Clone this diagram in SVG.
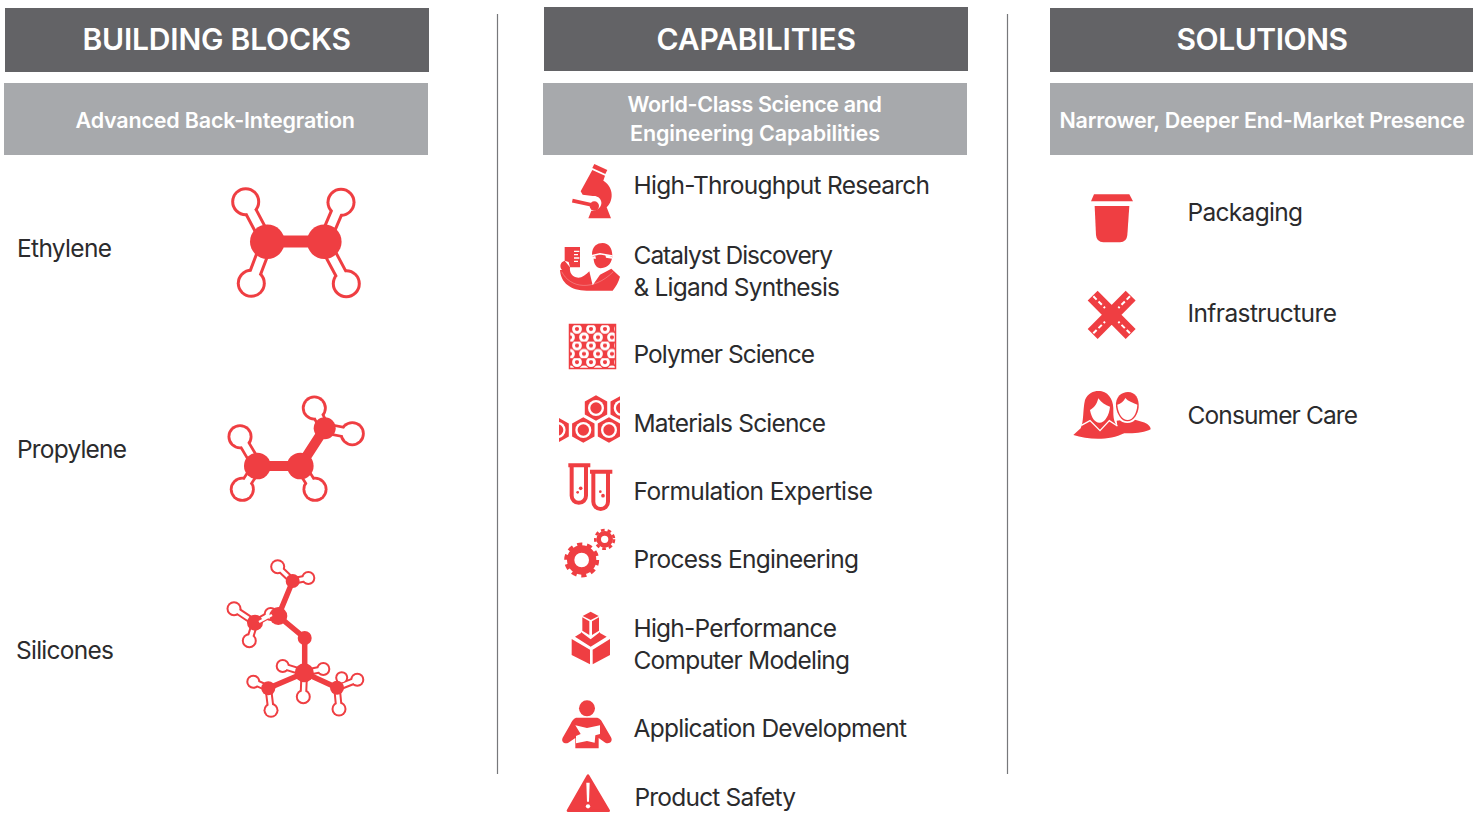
<svg xmlns="http://www.w3.org/2000/svg" width="1473" height="839" viewBox="0 0 1473 839">
<style>
text{font-family:"Inter","Liberation Sans",sans-serif}
.h{font-size:30px;font-weight:600;fill:#fff;text-anchor:start}
.s{font-size:21.5px;font-weight:600;fill:#fff}
.t{font-size:24.500px;font-weight:400;fill:#2b2b2d}
.hd{fill:#636366}.sb{fill:#a7a9ac}
.r{fill:#ef3e42}.w{fill:#fff}
.bl{stroke:#ef3e42;fill:none}
.wl{stroke:#fff;fill:none}
.div{stroke:#77787b;stroke-width:1.2}
</style>
<defs>
<pattern id="hex" x="570" y="325" width="14" height="16.600" patternUnits="userSpaceOnUse">
<rect width="14" height="16.600" fill="#ef3e42"/>
<circle cx="7" cy="4" r="3.500" fill="none" stroke="#fff" stroke-width="2.800"/>
<circle cx="0" cy="12.300" r="3.500" fill="none" stroke="#fff" stroke-width="2.800"/>
<circle cx="14" cy="12.300" r="3.500" fill="none" stroke="#fff" stroke-width="2.800"/>
</pattern>
<clipPath id="matclip"><rect x="559" y="390" width="61" height="60"/></clipPath>
</defs>
<g id="dividers">
<line class="div" x1="497.5" y1="14" x2="497.5" y2="774"/>
<line class="div" x1="1007.5" y1="14" x2="1007.5" y2="774"/>
</g>
<g id="col-building-blocks">
<rect class="hd" x="5" y="8" width="424" height="64"/>
<text class="h" x="82.500" y="50" textLength="268.500">BUILDING BLOCKS</text>
<rect class="sb" x="4" y="83" width="424" height="72"/>
<text class="s" x="75.500" y="128" textLength="279.500">Advanced Back-Integration</text>
</g>
<g id="col-capabilities">
<rect class="hd" x="544" y="7" width="424" height="64"/>
<text class="h" x="656.500" y="50" textLength="199.500">CAPABILITIES</text>
<rect class="sb" x="543" y="83" width="424" height="72"/>
<text class="s" x="627.500" y="112" textLength="254.500">World-Class Science and</text>
<text class="s" x="630" y="141" textLength="250">Engineering Capabilities</text>
</g>
<g id="col-solutions">
<rect class="hd" x="1050" y="8" width="423" height="64"/>
<text class="h" x="1176.500" y="50" textLength="171.500">SOLUTIONS</text>
<rect class="sb" x="1050" y="83" width="423" height="72"/>
<text class="s" x="1059.500" y="128" textLength="405.500">Narrower, Deeper End-Market Presence</text>
</g>
<g id="ethylene">
<text class="t" x="17" y="257" textLength="95">Ethylene</text>
<g class="bl" stroke-width="14"><path d="M267 242L245.700 201.700M267 242L251.300 283.300M324 242L341 202.300M324 242L346.300 283.700"/></g>
<circle class="r" cx="245.700" cy="201.700" r="14.500"/><circle class="r" cx="341" cy="202.300" r="14.500"/><circle class="r" cx="251.300" cy="283.300" r="14.500"/><circle class="r" cx="346.300" cy="283.700" r="14.500"/>
<g class="wl" stroke-width="8"><path d="M267 242L245.700 201.700M267 242L251.300 283.300M324 242L341 202.300M324 242L346.300 283.700"/></g>
<circle class="w" cx="245.700" cy="201.700" r="11.500"/><circle class="w" cx="341" cy="202.300" r="11.500"/><circle class="w" cx="251.300" cy="283.300" r="11.500"/><circle class="w" cx="346.300" cy="283.700" r="11.500"/>
<rect class="r" x="267" y="235.500" width="57" height="12"/>
<circle class="r" cx="267.300" cy="241.700" r="17.300"/><circle class="r" cx="324.300" cy="241.700" r="17.300"/>
</g>
<g id="propylene">
<text class="t" x="17" y="458" textLength="110">Propylene</text>
<g class="bl" stroke-width="12"><path d="M257.300 466L240 436.700M257.300 466L242.300 489.300M300.300 466L315 489.300M324.700 428.300L314.300 408M324.700 428.300L352.300 433.700"/></g>
<circle class="r" cx="240" cy="436.700" r="12.500"/><circle class="r" cx="242.300" cy="489.300" r="12.500"/><circle class="r" cx="315" cy="489.300" r="12.500"/><circle class="r" cx="314.300" cy="408" r="12.500"/><circle class="r" cx="352.300" cy="433.700" r="12.500"/>
<g class="wl" stroke-width="6.500"><path d="M257.300 466L240 436.700M257.300 466L242.300 489.300M300.300 466L315 489.300M324.700 428.300L314.300 408M324.700 428.300L352.300 433.700"/></g>
<circle class="w" cx="240" cy="436.700" r="9.700"/><circle class="w" cx="242.300" cy="489.300" r="9.700"/><circle class="w" cx="315" cy="489.300" r="9.700"/><circle class="w" cx="314.300" cy="408" r="9.700"/><circle class="w" cx="352.300" cy="433.700" r="9.700"/>
<path class="bl" stroke-width="10" d="M257.300 466H300.300L324.700 428.300"/>
<circle class="r" cx="257.300" cy="466" r="13.300"/><circle class="r" cx="300.300" cy="466" r="13.300"/><circle class="r" cx="324.700" cy="428.300" r="11"/>
</g>
<g id="silicones">
<text class="t" x="16" y="659" textLength="98">Silicones</text>
<g class="bl" stroke-width="7.500"><path d="M292.700 581L277.700 566.700M292.700 581L308.300 578M255 622.700L234 608.700M255 622.700L249.300 640.700M255 622.700L270.700 614M304.300 672.700L282.700 666M304.300 672.700L323.300 669M304.300 672.700L303.300 696.700M268.300 688.300L253.300 681.700M268.300 688.300L271 710.300M337 687.700L339 709M337 687.700L357.300 679.700M337 687.700L341.700 677.700"/></g>
<g class="r"><circle cx="277.700" cy="566.700" r="7.500"/><circle cx="308.300" cy="578" r="7"/><circle cx="234" cy="608.700" r="7.500"/><circle cx="249.300" cy="640.700" r="7.500"/><circle cx="270.700" cy="614" r="7"/><circle cx="282.700" cy="666" r="7"/><circle cx="323.300" cy="669" r="7"/><circle cx="303.300" cy="696.700" r="7.500"/><circle cx="253.300" cy="681.700" r="7"/><circle cx="271" cy="710.300" r="7.500"/><circle cx="339" cy="709" r="7.500"/><circle cx="357.300" cy="679.700" r="7"/><circle cx="341.700" cy="677.700" r="6.500"/></g>
<g class="wl" stroke-width="3.500"><path d="M292.700 581L277.700 566.700M292.700 581L308.300 578M255 622.700L234 608.700M255 622.700L249.300 640.700M255 622.700L270.700 614M304.300 672.700L282.700 666M304.300 672.700L323.300 669M304.300 672.700L303.300 696.700M268.300 688.300L253.300 681.700M268.300 688.300L271 710.300M337 687.700L339 709M337 687.700L357.300 679.700M337 687.700L341.700 677.700"/></g>
<g class="w"><circle cx="277.700" cy="566.700" r="5.500"/><circle cx="308.300" cy="578" r="5"/><circle cx="234" cy="608.700" r="5.500"/><circle cx="249.300" cy="640.700" r="5.500"/><circle cx="270.700" cy="614" r="5"/><circle cx="282.700" cy="666" r="5"/><circle cx="323.300" cy="669" r="5"/><circle cx="303.300" cy="696.700" r="5.500"/><circle cx="253.300" cy="681.700" r="5"/><circle cx="271" cy="710.300" r="5.500"/><circle cx="339" cy="709" r="5.500"/><circle cx="357.300" cy="679.700" r="5"/><circle cx="341.700" cy="677.700" r="4.500"/></g>
<path class="bl" stroke-width="5.500" d="M292.700 581L278.300 616L304.700 638V672.700L268.300 688.300M304.300 672.700L337 687.700"/>
<g class="r"><circle cx="292.700" cy="581" r="7"/><circle cx="278.300" cy="616" r="9"/><circle cx="255" cy="622.700" r="8"/><circle cx="304.700" cy="638" r="7"/><circle cx="304.300" cy="672.700" r="9.500"/><circle cx="268.300" cy="688.300" r="7"/><circle cx="337" cy="687.700" r="7"/></g>
<path class="wl" stroke-width="2.500" d="M259 622L272 615"/>
</g>
<g id="high-throughput">
<text class="t" x="633.500" y="194" textLength="296.500">High-Throughput Research</text>
<g transform="translate(550 160) scale(.3333)">
<path class="r" d="M133 12L172 30L166 42L127 24Z"/>
<path class="r" d="M127 30L165 47L160 62C186 76 196 116 170 142L183 175H115L124 152C142 154 156 140 154 126C152 113 140 106 128 108L98 104L92 94Z"/>
<path class="bl" stroke-width="11" d="M67 122L130 136"/>
<circle class="r" cx="133" cy="138" r="14"/>
</g>
</g>
<g id="catalyst">
<text class="t" x="633.500" y="263.500" textLength="199.500">Catalyst Discovery</text>
<text class="t" x="633.500" y="295.500" textLength="206.500">&amp; Ligand Synthesis</text>
<g transform="translate(550 160) scale(.3333)">
<path class="r" d="M44 261H90V322H60L56 306L44 302Z"/>
<path class="w" d="M72 272H88V276H72ZM72 282H84V286H72ZM72 292H88V296H72ZM72 302H84V306H72Z"/>
<path class="r" d="M44 302C30 306 28 320 36 330H30C32 368 62 392 110 392H188C198 380 206 365 210 350L184 326L150 344L128 376L118 334C105 348 92 356 78 352C66 348 58 338 60 322Z"/>
<path class="r" d="M126 284C126 258 142 249 158 249C176 249 187 264 187 286C187 306 176 324 152 325C140 325 132 312 131 298Z"/>
<path class="wl" stroke-width="4.500" d="M124 287L150 281L188 288"/>
<path class="w" d="M122 291L136 288L138 296H125ZM166 284L186 290V296L168 293Z"/>
<path class="wl" stroke-width=".8" d="M35 335C60 385 130 395 190 335"/>
</g>
</g>
<g id="polymer">
<text class="t" x="633.500" y="363" textLength="181.500">Polymer Science</text>
<rect x="569.500" y="324.500" width="46" height="44" fill="url(#hex)" stroke="#ef3e42" stroke-width="1.500"/>
</g>
<g id="materials">
<text class="t" x="633.500" y="432" textLength="192.500">Materials Science</text>
<g clip-path="url(#matclip)">
<g><polygon class="r" points="596,395.200 607.200,401.600 607.200,414.400 596,420.800 584.800,414.400 584.800,401.600"/><circle cx="596" cy="408" r="8" class="w"/><circle cx="596" cy="408" r="5.700" class="r"/></g>
<g><polygon class="r" points="583.300,417.200 594.500,423.600 594.500,436.400 583.300,442.800 572.100,436.400 572.100,423.600"/><circle cx="583.300" cy="430" r="8" class="w"/><circle cx="583.300" cy="430" r="5.700" class="r"/></g>
<g><polygon class="r" points="609,417.200 620.200,423.600 620.200,436.400 609,442.800 597.800,436.400 597.800,423.600"/><circle cx="609" cy="430" r="8" class="w"/><circle cx="609" cy="430" r="5.700" class="r"/></g>
<g><polygon class="r" points="557.600,417.200 568.800,423.600 568.800,436.400 557.600,442.800 546.400,436.400 546.400,423.600"/><circle cx="557.600" cy="430" r="8" class="w"/><circle cx="557.600" cy="430" r="5.700" class="r"/></g>
<g><polygon class="r" points="621.700,395.200 632.900,401.600 632.900,414.400 621.700,420.800 610.500,414.400 610.500,401.600"/><circle cx="621.700" cy="408" r="8" class="w"/><circle cx="621.700" cy="408" r="5.700" class="r"/></g>
</g>
</g>
<g id="formulation">
<text class="t" x="633.500" y="500" textLength="239.500">Formulation Expertise</text>
<g transform="translate(550 385) scale(.3333)">
<path class="bl" stroke-width="12" d="M55 241H121M65 241V332A21 21 0 0 0 108 332V241"/>
<path class="bl" stroke-width="12" d="M120 260H187M130 260V350A21 21 0 0 0 174 350V260"/>
<g class="r"><circle cx="92" cy="310" r="5.500"/><circle cx="83" cy="322" r="4"/><circle cx="151" cy="320" r="4"/><circle cx="159" cy="332" r="5.500"/></g>
</g>
</g>
<g id="process">
<text class="t" x="633.500" y="568" textLength="225.500">Process Engineering</text>
<g transform="translate(550 385) scale(.3333)" fill="none" stroke="#ef3e42">
<circle cx="95" cy="525" r="33" stroke-width="22"/>
<circle cx="95" cy="525" r="47" stroke-width="11" stroke-dasharray="15.500 14"/>
<circle cx="164" cy="463" r="18" stroke-width="14"/>
<circle cx="164" cy="463" r="28" stroke-width="8" stroke-dasharray="11 9"/>
</g>
</g>
<g id="modeling">
<text class="t" x="633.500" y="637" textLength="203.500">High-Performance</text>
<text class="t" x="633.500" y="669" textLength="216.500">Computer Modeling</text>
<g transform="translate(550 600) scale(.3333)">
<path class="r" d="M98 48L122 35L146 48L122 60Z"/>
<path class="r" d="M97 52L118 64V105L97 92Z"/>
<path class="r" d="M126 64L147 52V92L126 105Z"/>
<path class="r" d="M75 110L93 99V96L122 118L150 96V99L170 110L122 140Z"/>
<path class="r" d="M65 117L120 149V193L65 165Z"/>
<path class="r" d="M128 149L180 117V165L128 193Z"/>
</g>
</g>
<g id="application">
<text class="t" x="633.500" y="737" textLength="273.500">Application Development</text>
<g transform="translate(550 600) scale(.3333)">
<circle class="r" cx="111" cy="325" r="24"/>
<path class="r" d="M78 353C70 356 66 362 60 375L38 413C32 425 45 434 55 428L76 414V445H146V414L166 428C178 434 190 424 183 412L160 372C154 360 150 356 142 353Z"/>
<path class="w" d="M76 376L111 384L150 376V402L136 406L134 428L111 423L78 430V408L92 402Z"/>
</g>
</g>
<g id="safety">
<text class="t" x="634.500" y="806" textLength="161.500">Product Safety</text>
<g transform="translate(550 600) scale(.3333)">
<path class="r" stroke="#ef3e42" stroke-width="8" stroke-linejoin="round" d="M114 527L54 632H176Z"/>
<path class="w" d="M109 548H119L117 605H111Z"/>
<circle class="w" cx="114" cy="619" r="6.500"/>
</g>
</g>
<g id="packaging">
<text class="t" x="1187.500" y="221" textLength="115.500">Packaging</text>
<g transform="translate(1060 180) scale(.3333)">
<path class="r" d="M102 43H208L219 64H93Z"/>
<path class="r" d="M104 78H208L202 165Q200 187 180 187H130Q110 187 108 165Z"/>
</g>
</g>
<g id="infrastructure">
<text class="t" x="1187.500" y="322" textLength="149.500">Infrastructure</text>
<g transform="translate(1060 180) scale(.3333)">
<path class="bl" stroke-width="42" d="M98 347L212 462M212 347L98 462"/>
<path class="wl" stroke-width="6" stroke-dasharray="14 8" d="M100 349L135 384M210 349L175 384M100 460L135 425M210 460L175 425"/>
</g>
</g>
<g id="consumer-care">
<text class="t" x="1187.500" y="424" textLength="170.500">Consumer Care</text>
<g transform="translate(1060 180) scale(.3333)">
<path class="r" d="M170 722L215 716L248 726C262 730 272 738 272 748C250 760 210 762 175 758Z"/>
<ellipse class="w" cx="202" cy="682" rx="38" ry="47"/>
<path class="r" d="M168 680C165 650 185 636 204 636C226 636 238 655 236 682C234 702 222 724 202 724C184 724 171 702 168 680Z"/>
<path class="w" d="M172 674C174 702 188 720 203 720C218 720 231 700 232 674C218 668 204 664 196 654C192 664 182 671 172 674Z"/>
<path class="r" d="M75 660C85 635 110 630 125 634C150 640 162 665 160 695C160 720 165 730 172 738L192 760C150 782 85 780 40 765L62 745C72 725 68 690 75 660Z"/>
<path class="w" d="M90 690C95 715 105 728 118 728C135 728 148 705 150 680C135 675 125 668 115 655C110 675 100 685 90 690Z"/>
<path class="wl" stroke-width="4" d="M64 736L90 722L120 752L148 722L172 738"/>
</g>
</g>
</svg>
